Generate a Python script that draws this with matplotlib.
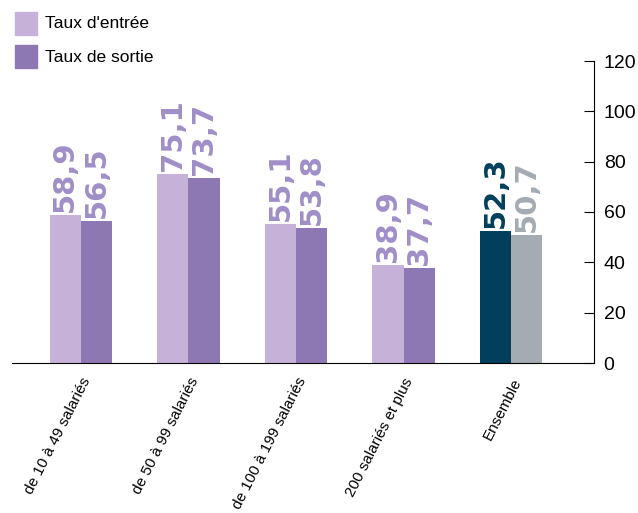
import matplotlib.pyplot as plt
import numpy as np

# Données
categories = ["de 10 à 49 salariés", "de 50 à 99 salariés", "de 100 à 199 salariés",
              "200 salariés et plus", "Ensemble"]
taux_entree = [58.9, 75.1, 55.1, 38.9, 52.3]
taux_sortie = [56.5, 73.7, 53.8, 37.7, 50.7]

col_entree = ["#c6b2d8"] * 4 + ["#023f5c"]
col_sortie = ["#8e78b4"] * 4 + ["#a4abb2"]
lab_entree = ["#a08ec8"] * 4 + ["#023f5c"]
lab_sortie = ["#a08ec8"] * 4 + ["#a4abb2"]

plt.rcParams['font.family'] = ['Liberation Sans', 'DejaVu Sans']

fig = plt.figure(figsize=(6.38, 5.13), dpi=100)
ax = fig.add_axes([12 / 638, 1 - 363 / 513, (594 - 12) / 638, (363 - 61) / 513])

x = np.arange(len(categories))
w = 0.29
ax.bar(x - w / 2, taux_entree, w, color=col_entree)
ax.bar(x + w / 2, taux_sortie, w, color=col_sortie)

def fmt(v):
    return f"{v:.1f}".replace(".", ",")

for i in range(len(categories)):
    ax.text(x[i] - w / 2, taux_entree[i] + 1.2, fmt(taux_entree[i]), rotation=90,
            ha="center", va="bottom", fontsize=21, fontweight="bold",
            color=lab_entree[i], family="DejaVu Sans")
    ax.text(x[i] + w / 2, taux_sortie[i] + 1.2, fmt(taux_sortie[i]), rotation=90,
            ha="center", va="bottom", fontsize=21, fontweight="bold",
            color=lab_sortie[i], family="DejaVu Sans")

ax.set_xlim(-0.64, 4.77)
ax.set_ylim(0, 120)
ax.yaxis.tick_right()
ax.set_yticks([0, 20, 40, 60, 80, 100, 120])
ax.tick_params(axis="y", direction="in", length=7, labelsize=14, pad=7)
ax.spines["left"].set_visible(False)
ax.spines["top"].set_visible(False)
ax.spines["right"].set_bounds(0, 120)

ax.set_xticks(x)
ax.set_xticklabels(categories, rotation=63, ha="right", rotation_mode="anchor", fontsize=11)
ax.tick_params(axis="x", length=0, pad=9)

# Légende manuelle en haut à gauche
legend_items = [("Taux d'entrée", "#c6b2d8", 12), ("Taux de sortie", "#8e78b4", 45)]
for txt, col, ytop in legend_items:
    fig.patches.append(plt.Rectangle((15 / 638, 1 - (ytop + 23) / 513), 22 / 638, 23 / 513,
                                     transform=fig.transFigure, color=col))
    fig.text(45 / 638, 1 - (ytop + 12) / 513, txt, fontsize=12.5, va="center", ha="left")

fig.savefig("out.png", dpi=100)
